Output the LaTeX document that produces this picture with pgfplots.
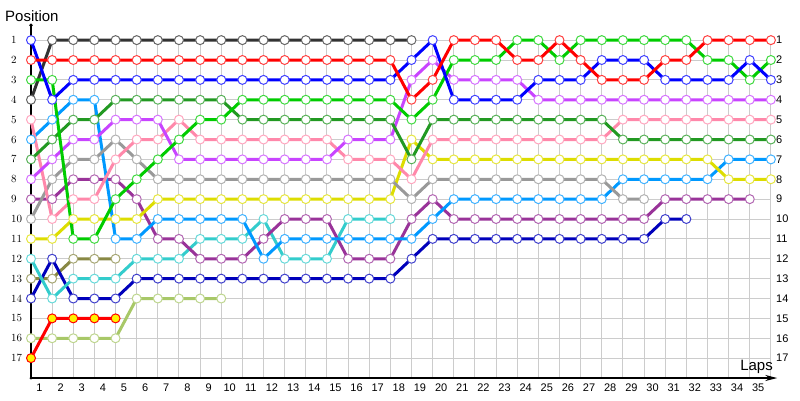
\documentclass[border=0pt]{standalone}
\usepackage{fontspec}
\setmainfont{Liberation Sans}
\usepackage{pgfplots}
\pgfplotsset{compat=1.18}
\usetikzlibrary{arrows.meta}

\definecolor{cblack}{HTML}{333333}
\definecolor{cred}{HTML}{FF0000}
\definecolor{cblue}{HTML}{0000FF}
\definecolor{clgreen}{HTML}{00CC00}
\definecolor{cdgreen}{HTML}{229922}
\definecolor{cpink}{HTML}{FF88AA}
\definecolor{cviolet}{HTML}{C844FF}
\definecolor{cgray}{HTML}{999999}
\definecolor{cyellow}{HTML}{DDDD00}
\definecolor{clblue}{HTML}{0099FF}
\definecolor{ccyan}{HTML}{33CCCC}
\definecolor{cpurple}{HTML}{993399}
\definecolor{cnavy}{HTML}{0000BB}
\definecolor{colive}{HTML}{888844}
\definecolor{clolive}{HTML}{A8C868}
\definecolor{cgrid}{HTML}{CCCCCC}

\tikzset{
  drv/.style={line width=3pt, color=#1, line join=round, mark=*, mark size=4.5pt,
    mark options={fill=white, draw=#1!75!white, line width=1pt, solid}},
}

\begin{document}
\begin{tikzpicture}
\begin{axis}[
    x=21.14pt, y=19.875pt,
    y dir=reverse,
    xmin=0, xmax=35, ymin=0.75, ymax=18,
    clip=false,
    axis line style={draw=none},
    tick style={draw=none},
    xtick={0.4,1.4,...,34.4},
    xticklabels={1,2,3,4,5,6,7,8,9,10,11,12,13,14,15,16,17,18,19,20,21,22,23,24,25,26,27,28,29,30,31,32,33,34,35},
    minor xtick={1,2,...,35},
    xminorgrids=true, xmajorgrids=false,
    ytick={1,2,...,17},
    ymajorgrids=true,
    grid style={cgrid, line width=1pt},
    minor grid style={cgrid, line width=1pt},
    ticklabel style={font=\fontsize{11}{13}\selectfont, inner sep=0pt},
    xticklabel style={anchor=center, yshift=-10pt},
    yticklabel style={anchor=west, xshift=-20pt},
]

% axis lines
\draw[black, line width=1.2pt] (axis cs:0,18) -- (axis cs:0,0.25);
\fill[black] (axis cs:0,0.25) circle (1.8pt);
\fill[black] (axis cs:0,18) circle (1.5pt);
\draw[black, line width=1.2pt, -{Stealth[length=12pt,width=6pt]}] (axis cs:0,18) -- (axis cs:35.3,18);

% black
\addplot[drv=cblack] coordinates {(0,4)(1,1)(2,1)(3,1)(4,1)(5,1)(6,1)(7,1)(8,1)(9,1)(10,1)(11,1)(12,1)(13,1)(14,1)(15,1)(16,1)(17,1)(18,1)};
% light olive
\addplot[drv=clolive] coordinates {(0,16)(1,16)(2,16)(3,16)(4,16)(5,14)(6,14)(7,14)(8,14)(9,14)};
% olive
\addplot[drv=colive] coordinates {(0,13)(1,13)(2,12)(3,12)(4,12)};
% navy
\addplot[drv=cnavy] coordinates {(0,14)(1,12)(2,14)(3,14)(4,14)(5,13)(6,13)(7,13)(8,13)(9,13)(10,13)(11,13)(12,13)(13,13)(14,13)(15,13)(16,13)(17,13)(18,12)(19,11)(20,11)(21,11)(22,11)(23,11)(24,11)(25,11)(26,11)(27,11)(28,11)(29,11)(30,10)(31,10)};
% cyan
\addplot[drv=ccyan] coordinates {(0,12)(1,14)(2,13)(3,13)(4,13)(5,12)(6,12)(7,12)(8,11)(9,11)(10,11)(11,10)(12,12)(13,12)(14,12)(15,10)(16,10)(17,10)};
% purple
\addplot[drv=cpurple] coordinates {(0,9)(1,9)(2,8)(3,8)(4,8)(5,9)(6,11)(7,11)(8,12)(9,12)(10,12)(11,11)(12,10)(13,10)(14,10)(15,12)(16,12)(17,12)(18,10)(19,9)(20,10)(21,10)(22,10)(23,10)(24,10)(25,10)(26,10)(27,10)(28,10)(29,10)(30,9)(31,9)(32,9)(33,9)(34,9)};
% light blue
\addplot[drv=clblue] coordinates {(0,6)(1,5)(2,4)(3,4)(4,11)(5,11)(6,10)(7,10)(8,10)(9,10)(10,10)(11,12)(12,11)(13,11)(14,11)(15,11)(16,11)(17,11)(18,11)(19,10)(20,9)(21,9)(22,9)(23,9)(24,9)(25,9)(26,9)(27,9)(28,8)(29,8)(30,8)(31,8)(32,8)(33,7)(34,7)(35,7)};
% yellow
\addplot[drv=cyellow] coordinates {(0,11)(1,11)(2,10)(3,10)(4,10)(5,10)(6,9)(7,9)(8,9)(9,9)(10,9)(11,9)(12,9)(13,9)(14,9)(15,9)(16,9)(17,9)(18,6)(19,7)(20,7)(21,7)(22,7)(23,7)(24,7)(25,7)(26,7)(27,7)(28,7)(29,7)(30,7)(31,7)(32,7)(33,8)(34,8)(35,8)};
% gray
\addplot[drv=cgray] coordinates {(0,10)(1,8)(2,7)(3,7)(4,6)(5,7)(6,8)(7,8)(8,8)(9,8)(10,8)(11,8)(12,8)(13,8)(14,8)(15,8)(16,8)(17,8)(18,9)(19,8)(20,8)(21,8)(22,8)(23,8)(24,8)(25,8)(26,8)(27,8)(28,9)(29,9)};
% pink
\addplot[drv=cpink] coordinates {(0,5)(1,10)(2,9)(3,9)(4,7)(5,6)(6,6)(7,5)(8,6)(9,6)(10,6)(11,6)(12,6)(13,6)(14,6)(15,7)(16,7)(17,7)(18,8)(19,6)(20,6)(21,6)(22,6)(23,6)(24,6)(25,6)(26,6)(27,6)(28,5)(29,5)(30,5)(31,5)(32,5)(33,5)(34,5)(35,5)};
% violet
\addplot[drv=cviolet] coordinates {(0,8)(1,7)(2,6)(3,6)(4,5)(5,5)(6,5)(7,7)(8,7)(9,7)(10,7)(11,7)(12,7)(13,7)(14,7)(15,6)(16,6)(17,6)(18,3)(19,2)(20,3)(21,3)(22,3)(23,3)(24,4)(25,4)(26,4)(27,4)(28,4)(29,4)(30,4)(31,4)(32,4)(33,4)(34,4)(35,4)};
% dark green
\addplot[drv=cdgreen] coordinates {(0,7)(1,6)(2,5)(3,5)(4,4)(5,4)(6,4)(7,4)(8,4)(9,4)(10,5)(11,5)(12,5)(13,5)(14,5)(15,5)(16,5)(17,5)(18,7)(19,5)(20,5)(21,5)(22,5)(23,5)(24,5)(25,5)(26,5)(27,5)(28,6)(29,6)(30,6)(31,6)(32,6)(33,6)(34,6)(35,6)};
% light green
\addplot[drv=clgreen] coordinates {(0,3)(1,3)(2,11)(3,11)(4,9)(5,8)(6,7)(7,6)(8,5)(9,5)(10,4)(11,4)(12,4)(13,4)(14,4)(15,4)(16,4)(17,4)(18,5)(19,4)(20,2)(21,2)(22,2)(23,1)(24,1)(25,2)(26,1)(27,1)(28,1)(29,1)(30,1)(31,1)(32,2)(33,2)(34,3)(35,2)};
% blue
\addplot[drv=cblue] coordinates {(0,1)(1,4)(2,3)(3,3)(4,3)(5,3)(6,3)(7,3)(8,3)(9,3)(10,3)(11,3)(12,3)(13,3)(14,3)(15,3)(16,3)(17,3)(18,2)(19,1)(20,4)(21,4)(22,4)(23,4)(24,3)(25,3)(26,3)(27,2)(28,2)(29,2)(30,3)(31,3)(32,3)(33,3)(34,2)(35,3)};
% red
\addplot[drv=cred] coordinates {(0,2)(1,2)(2,2)(3,2)(4,2)(5,2)(6,2)(7,2)(8,2)(9,2)(10,2)(11,2)(12,2)(13,2)(14,2)(15,2)(16,2)(17,2)(18,4)(19,3)(20,1)(21,1)(22,1)(23,2)(24,2)(25,1)(26,2)(27,3)(28,3)(29,3)(30,2)(31,2)(32,1)(33,1)(34,1)(35,1)};
% red with yellow markers
\addplot[drv=cred, mark options={fill=yellow, draw=cred, line width=1pt}] coordinates {(0,17)(1,15)(2,15)(3,15)(4,15)};

% right-hand position labels
\pgfplotsinvokeforeach{1,...,17}{
  \node[anchor=west, inner sep=0pt, font=\fontsize{11}{13}\selectfont] at (axis cs:35.24,#1) {#1};
}
\node[anchor=base west, inner sep=0pt, font=\fontsize{15}{18}\selectfont] at (axis cs:-1.23,0.04) {Position};
\node[anchor=base east, inner sep=0pt, font=\fontsize{15}{18}\selectfont] at (axis cs:35.1,17.6) {Laps};

\coordinate (O) at (axis cs:0,18);
\end{axis}
\path[use as bounding box] ([shift={(-31pt,378pt)}]O) rectangle ([shift={(769pt,-22pt)}]O);
\end{tikzpicture}
\end{document}
